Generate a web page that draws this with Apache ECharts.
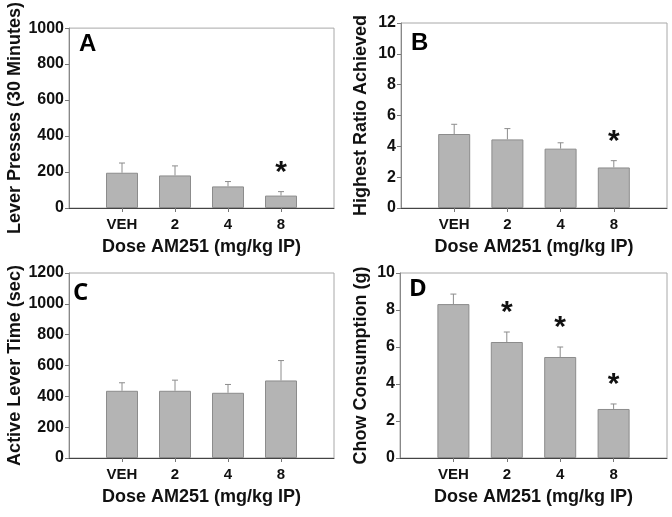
<!DOCTYPE html>
<html>
<head>
<meta charset="utf-8">
<script src="https://cdn.jsdelivr.net/npm/echarts@6/dist/echarts.min.js"></script>
<style>
html,body{margin:0;padding:0;background:#fff;}
#chart{width:672px;height:517px;}
</style>
</head>
<body>
<div id="chart"></div>
<script>
// ---- data ----
const doseLabels = ['', 'VEH', '2', '4', '8', ''];
const leverPresses = [196, 181, 120, 69];
const leverPressesErr = [54, 53, 27, 22];
const leverPressesSig = [0, 0, 0, 1];
const highestRatio = [4.8, 4.45, 3.85, 2.63];
const highestRatioErr = [0.63, 0.7, 0.38, 0.44];
const highestRatioSig = [0, 0, 0, 1];
const activeLeverTime = [436, 436, 423, 503];
const activeLeverTimeErr = [52, 69, 54, 129];
const activeLeverTimeSig = [0, 0, 0, 0];
const chowConsumption = [8.32, 6.27, 5.46, 2.65];
const chowConsumptionErr = [0.54, 0.54, 0.54, 0.27];
const chowConsumptionSig = [0, 1, 1, 1];

const panels = [
  {letter: 'A', yName: 'Lever Presses (30 Minutes)', max: 1000, interval: 200, mean: leverPresses, err: leverPressesErr, sig: leverPressesSig,
   grid: {left: 69, top: 24, width: 265, height: 184}, nameGap: 44, letterPos: [79, 32], letterFont: 'Liberation Sans'},
  {letter: 'B', yName: 'Highest Ratio Achieved', max: 12, interval: 2, mean: highestRatio, err: highestRatioErr, sig: highestRatioSig,
   grid: {left: 401, top: 23, width: 266, height: 185}, nameGap: 31, letterPos: [411, 31], letterFont: 'Liberation Sans'},
  {letter: 'C', yName: 'Active Lever Time (sec)', max: 1200, interval: 200, mean: activeLeverTime, err: activeLeverTimeErr, sig: activeLeverTimeSig,
   grid: {left: 69, top: 273, width: 265, height: 185}, nameGap: 44, letterPos: [73, 281], letterFont: 'Open Sans'},
  {letter: 'D', yName: 'Chow Consumption (g)', max: 10, interval: 2, mean: chowConsumption, err: chowConsumptionErr, sig: chowConsumptionSig,
   grid: {left: 400, top: 273, width: 267, height: 185}, nameGap: 30, letterPos: [409, 277], letterFont: 'Open Sans'}
];

const FONT = '"Liberation Sans", Arial, sans-serif';
const grids = [], xAxes = [], yAxes = [], series = [], graphics = [];

panels.forEach((p, i) => {
  grids.push(Object.assign({show: true, borderColor: '#a8a8a8', borderWidth: 1, backgroundColor: '#fff'}, p.grid));
  xAxes.push({
    type: 'category', gridIndex: i, data: doseLabels, boundaryGap: false,
    name: 'Dose AM251 (mg/kg IP)', nameLocation: 'middle', nameGap: 30,
    nameTextStyle: {fontFamily: FONT, fontWeight: 'bold', fontSize: 18, color: '#111'},
    axisLine: {show: true, lineStyle: {color: '#444', width: 1}},
    axisTick: {show: true, length: 4, interval: (idx, val) => val !== '', lineStyle: {color: '#777'}},
    axisLabel: {interval: 0, fontFamily: FONT, fontWeight: 'bold', fontSize: 15, color: '#111', margin: 9},
    splitLine: {show: false}
  });
  yAxes.push({
    type: 'value', gridIndex: i, min: 0, max: p.max, interval: p.interval,
    name: p.yName, nameLocation: 'middle', nameGap: p.nameGap,
    nameTextStyle: {fontFamily: FONT, fontWeight: 'bold', fontSize: 18, color: '#111'},
    axisLine: {show: true, lineStyle: {color: '#888', width: 1}},
    axisTick: {show: true, length: 4, lineStyle: {color: '#777'}},
    axisLabel: {fontFamily: FONT, fontWeight: 'bold', fontSize: 16, color: '#111', margin: 5, formatter: v => String(v)},
    splitLine: {show: false}
  });
  const barData = [null].concat(p.mean).concat([null]);
  series.push({
    type: 'bar', xAxisIndex: i, yAxisIndex: i, data: barData, barWidth: 32,
    itemStyle: {color: '#b4b4b4', borderColor: '#8c8c8c', borderWidth: 1},
    silent: true, animation: false, z: 2
  });
  const errData = p.mean.map((m, k) => [k + 1, m, p.err[k], p.sig[k]]);
  series.push({
    type: 'custom', xAxisIndex: i, yAxisIndex: i, data: errData, animation: false, silent: true, z: 3,
    renderItem: (params, api) => {
      const x = api.value(0), v = api.value(1), e = api.value(2), s = api.value(3);
      const p0 = api.coord([x, v]);
      const p1 = api.coord([x, v + e]);
      const children = [
        {type: 'line', shape: {x1: p0[0], y1: p0[1], x2: p1[0], y2: p1[1]}, style: {stroke: '#8c8c8c', lineWidth: 1}},
        {type: 'line', shape: {x1: p1[0] - 3, y1: p1[1], x2: p1[0] + 3, y2: p1[1]}, style: {stroke: '#8c8c8c', lineWidth: 1}}
      ];
      if (s) {
        children.push({type: 'text', style: {text: '*', x: p1[0], y: p1[1] - 19, align: 'center', verticalAlign: 'middle',
          font: 'bold 30px "Liberation Sans", Arial, sans-serif', fill: '#111'}});
      }
      return {type: 'group', children};
    },
    encode: {x: 0, y: 1}
  });
  graphics.push({
    type: 'text', left: p.letterPos[0], top: p.letterPos[1], z: 10,
    style: {text: p.letter, font: 'bold 24px "' + p.letterFont + '", Arial, sans-serif', fill: '#000'}
  });
});

const chart = echarts.init(document.getElementById('chart'), null, {renderer: 'canvas'});
chart.setOption({
  animation: false,
  grid: grids, xAxis: xAxes, yAxis: yAxes, series: series, graphic: graphics
});
</script>
</body>
</html>
